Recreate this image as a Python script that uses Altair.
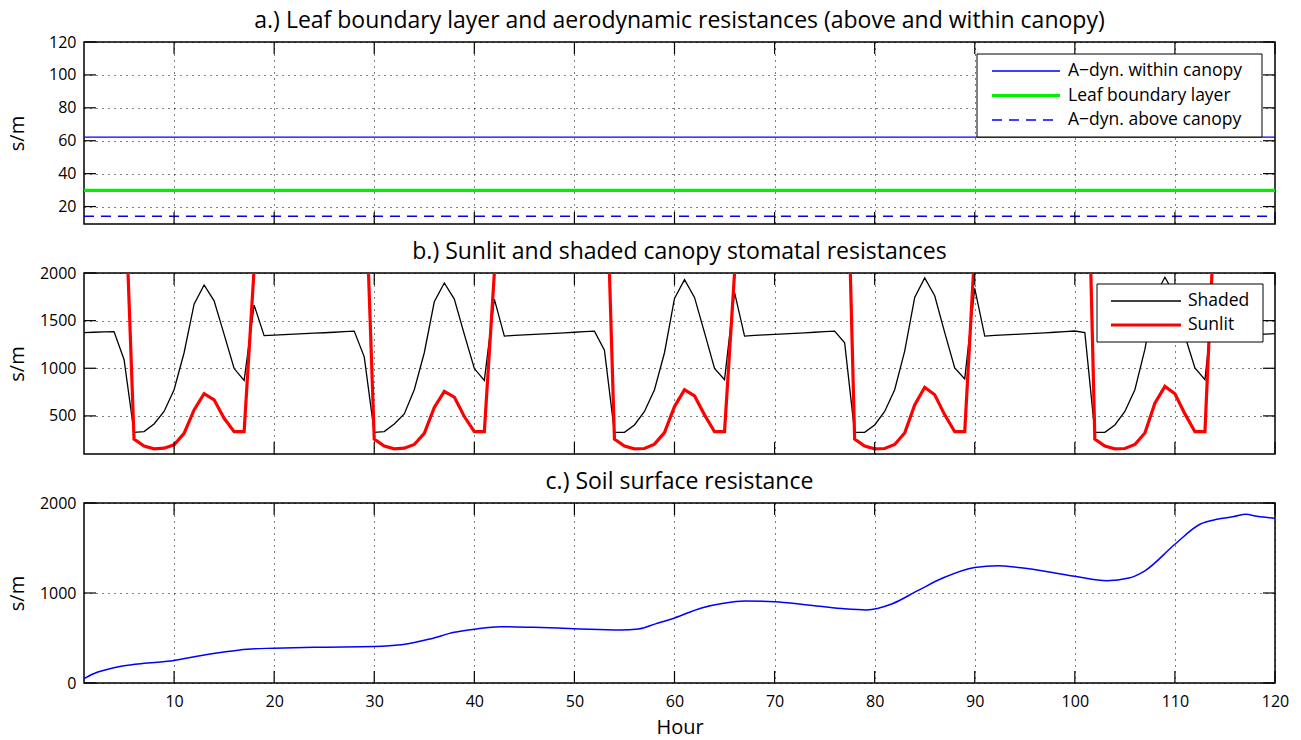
import altair as alt
import pandas as pd

FONT = "Open Sans"

# ---------------- data ----------------
X_TICKS = [10, 20, 30, 40, 50, 60, 70, 80, 90, 100, 110, 120]
X_GRID = [10, 20, 30, 40, 50, 60, 70, 80, 90, 100, 110]

# panel a: constant resistances (s/m)
A_NAMES = ["A\u2212dyn. within canopy", "Leaf boundary layer", "A\u2212dyn. above canopy"]
A_VALUES = [62.2, 29.8, 14.1]
A_SPAN = [1, 120]
A_YTICKS = [20, 40, 60, 80, 100, 120]

# panel b: stomatal resistances, hours 1..120
B_HOURS = list(range(1, 121))
SHADED = [
    1374, 1378, 1382, 1385, 1092,
    328, 335, 415, 546, 775, 1163, 1673, 1874, 1708, 1356, 997, 873,
    1663, 1342, 1348, 1353, 1358, 1363, 1368, 1373, 1378, 1384, 1390, 1120,
    328, 335, 415, 521, 775, 1163, 1698, 1895, 1726, 1356, 997, 873,
    1726, 1338, 1345, 1350, 1355, 1360, 1366, 1372, 1378, 1384, 1390, 1190,
    328, 328, 405, 546, 775, 1163, 1733, 1930, 1744, 1374, 997, 880,
    1797, 1338, 1345, 1350, 1355, 1360, 1366, 1372, 1378, 1384, 1390, 1268,
    328, 328, 405, 546, 775, 1180, 1744, 1948, 1761, 1374, 1004, 888,
    1839, 1338, 1345, 1350, 1355, 1360, 1366, 1372, 1378, 1384, 1391, 1374,
    328, 328, 405, 546, 775, 1198, 1760, 1955, 1770, 1339, 1004, 880,
    1870, 1338, 1343, 1348, 1353, 1358, 1363,
]
SUNLIT = [
    5000, 5000, 5000, 5000, 3160,
    257, 183, 154, 161, 197, 317, 563, 733, 669, 475, 334, 334,
    2050, 5000, 5000, 5000, 5000, 5000, 5000, 5000, 5000, 5000, 5000, 3300,
    257, 183, 154, 161, 200, 317, 588, 757, 697, 493, 334, 334,
    2000, 5000, 5000, 5000, 5000, 5000, 5000, 5000, 5000, 5000, 5000, 3740,
    257, 183, 154, 158, 204, 324, 598, 775, 711, 511, 334, 334,
    2000, 5000, 5000, 5000, 5000, 5000, 5000, 5000, 5000, 5000, 5000, 4310,
    257, 183, 154, 158, 200, 320, 616, 800, 722, 511, 334, 334,
    2250, 5000, 5000, 5000, 5000, 5000, 5000, 5000, 5000, 5000, 5000, 4615,
    257, 183, 154, 158, 200, 320, 634, 810, 733, 521, 334, 334,
    2714, 5000, 5000, 5000, 5000, 5000, 5000,
]
B_NAMES = ["Shaded", "Sunlit"]
B_YTICKS = [500, 1000, 1500, 2000]

# panel c: soil surface resistance
SOIL_HOURS = [1, 1.95, 3.2, 4.85, 7.3, 10, 12.3, 14.8, 17.3, 20, 24, 30, 32.7,
              35.6, 38, 40, 42.6, 45.9, 50, 54.6, 56.4, 58.1, 60, 62.7, 64.9,
              67, 70, 73.3, 76.7, 79.2, 81.7, 84.3, 86.8, 90, 92.3, 94.4, 100,
              103.2, 105.4, 107, 110, 112.5, 114.2, 115.9, 117.1, 118.2, 120]
SOIL_VALUES = [48, 103, 147, 188, 221, 250, 298, 342, 376, 387, 398, 405, 424,
               490, 563, 597, 626, 619, 604, 589, 600, 657, 723, 834, 886,
               911, 904, 867, 827, 812, 878, 1026, 1166, 1284, 1303, 1284, 1185,
               1137, 1166, 1247, 1542, 1764, 1819, 1849, 1875, 1852, 1830]
C_YTICKS = [0, 1000, 2000]

# ---------------- style ----------------
W = 1191
HA, HB, HC = 182, 181, 180
TICK = 12
THIN, THICK = 1.3, 3.2
BLUE, GREEN, RED, BLACK = "#0000ff", "#00f000", "#ff0000", "#000000"
A_STYLES = [(BLUE, THIN, [1, 0]), (GREEN, THICK, [1, 0]), (BLUE, THIN, [10, 7])]
B_STYLES = [(BLACK, THIN, [1, 0]), (RED, THICK, [1, 0])]

xscale = alt.Scale(domain=[1, 120], nice=False, zero=False)


def inner_ticks(yticks, ydomain, h):
    xdf = pd.DataFrame({"hour": X_TICKS})
    ydf = pd.DataFrame({"value": yticks})
    ysc = alt.Scale(domain=ydomain, nice=False, zero=False)
    base_x = alt.Chart(xdf).mark_rule(color="black", strokeWidth=1.2)
    base_y = alt.Chart(ydf).mark_rule(color="black", strokeWidth=1.2)
    top = base_x.encode(x=alt.X("hour:Q", scale=xscale),
                        y=alt.value(0), y2=alt.value(TICK))
    bot = base_x.encode(x=alt.X("hour:Q", scale=xscale),
                        y=alt.value(h - TICK), y2=alt.value(h))
    left = base_y.encode(y=alt.Y("value:Q", scale=ysc),
                         x=alt.value(0), x2=alt.value(TICK))
    right = base_y.encode(y=alt.Y("value:Q", scale=ysc),
                          x=alt.value(W - TICK), x2=alt.value(W))
    return [top, bot, left, right]


def legend_box(names, styles, x0, x1, y0, row0, pitch, lx0, lx1, tx):
    """Boxed legend drawn inside the plot area (pixel layout)."""
    y1 = y0 + (row0 - y0) * 2 + pitch * (len(names) - 1)
    one = pd.DataFrame({"k": [0]})
    layers = [alt.Chart(one).mark_rect(fill="white", stroke="black", strokeWidth=1).encode(
        x=alt.value(x0), x2=alt.value(x1), y=alt.value(y0), y2=alt.value(y1))]
    for i, (name, (col, sw, dash)) in enumerate(zip(names, styles)):
        yy = row0 + i * pitch
        d = pd.DataFrame({"label": [name]})
        layers.append(alt.Chart(d).mark_rule(color=col, strokeWidth=sw, strokeDash=dash).encode(
            x=alt.value(lx0), x2=alt.value(lx1), y=alt.value(yy)))
        layers.append(alt.Chart(d).mark_text(
            align="left", baseline="middle", font=FONT, fontSize=17.5, color="black").encode(
            x=alt.value(tx), y=alt.value(yy), text="label:N"))
    return layers


def x_axis(show):
    if show:
        return alt.Axis(values=X_TICKS, grid=True, ticks=False, domain=False,
                        title="Hour", labelFlush=False, labelPadding=10,
                        titlePadding=8, labelOverlap=False, format="d", tickCount=30)
    return alt.Axis(values=X_GRID, labels=False, ticks=False, domain=False,
                    grid=True, title=None, tickCount=30)


def y_axis(vals, h):
    return alt.Axis(values=vals, title="s/m", ticks=False, domain=False,
                    grid=True, labelFlush=False, labelPadding=8,
                    labelOverlap=False, format="d", tickCount=20,
                    titleX=-57, titleY=h / 2)


# panel a
rows_a = []
for n, v, st in zip(A_NAMES, A_VALUES, A_STYLES):
    for hh in A_SPAN:
        rows_a.append({"hour": hh, "value": v, "series": n, "sw": st[1]})
df_a = pd.DataFrame(rows_a)
ydom_a = [9.4, 120]
line_a = alt.Chart(df_a).mark_line(clip=True).encode(
    x=alt.X("hour:Q", scale=xscale, axis=x_axis(False)),
    y=alt.Y("value:Q", scale=alt.Scale(domain=ydom_a, nice=False, zero=False),
            axis=y_axis(A_YTICKS, HA)),
    color=alt.Color("series:N", scale=alt.Scale(domain=A_NAMES, range=[s[0] for s in A_STYLES]), legend=None),
    strokeDash=alt.StrokeDash("series:N", scale=alt.Scale(domain=A_NAMES, range=[s[2] for s in A_STYLES]), legend=None),
    strokeWidth=alt.StrokeWidth("sw:Q", scale=None),
)
panel_a = alt.layer(
    line_a, *inner_ticks(A_YTICKS, ydom_a, HA),
    *legend_box(A_NAMES, A_STYLES, 893, 1178, 12, 29, 24.5, 908, 976, 984),
).properties(
    width=W, height=HA,
    title="a.) Leaf boundary layer and aerodynamic resistances (above and within canopy)")

# panel b
rows_b = []
for hh, s in zip(B_HOURS, SHADED):
    rows_b.append({"hour": hh, "value": s, "series": "Shaded", "sw": B_STYLES[0][1]})
for hh, s in zip(B_HOURS, SUNLIT):
    rows_b.append({"hour": hh, "value": s, "series": "Sunlit", "sw": B_STYLES[1][1]})
df_b = pd.DataFrame(rows_b)
ydom_b = [100, 2000]
line_b = alt.Chart(df_b).mark_line(clip=True).encode(
    x=alt.X("hour:Q", scale=xscale, axis=x_axis(False)),
    y=alt.Y("value:Q", scale=alt.Scale(domain=ydom_b, nice=False, zero=False),
            axis=y_axis(B_YTICKS, HB)),
    color=alt.Color("series:N", scale=alt.Scale(domain=B_NAMES, range=[s[0] for s in B_STYLES]), legend=None),
    strokeWidth=alt.StrokeWidth("sw:Q", scale=None),
)
panel_b = alt.layer(
    line_b, *inner_ticks(B_YTICKS, ydom_b, HB),
    *legend_box(B_NAMES, B_STYLES, 1013, 1179, 11, 28, 24, 1027, 1097, 1104),
).properties(
    width=W, height=HB, title="b.) Sunlit and shaded canopy stomatal resistances")

# panel c
df_c = pd.DataFrame({"hour": SOIL_HOURS, "value": SOIL_VALUES})
ydom_c = [0, 2000]
line_c = alt.Chart(df_c).mark_line(clip=True, color=BLUE, strokeWidth=1.5,
                                   interpolate="monotone").encode(
    x=alt.X("hour:Q", scale=xscale, axis=x_axis(True)),
    y=alt.Y("value:Q", scale=alt.Scale(domain=ydom_c, nice=False, zero=False),
            axis=y_axis(C_YTICKS, HC)),
)
panel_c = alt.layer(line_c, *inner_ticks(C_YTICKS, ydom_c, HC)).properties(
    width=W, height=HC, title="c.) Soil surface resistance")

chart = alt.vconcat(panel_a, panel_b, panel_c, spacing=14).resolve_scale(
    color="independent", strokeDash="independent",
    x="independent", y="independent",
).properties(
    padding={"left": 6, "top": 9, "right": 5, "bottom": 0},
    background="white",
).configure(font=FONT).configure_view(
    stroke="black", strokeWidth=1.5
).configure_axis(
    labelFont=FONT, labelFontSize=16, labelColor="black",
    titleFont=FONT, titleFontSize=20, titleFontWeight="normal", titleColor="black",
    gridColor="black", gridDash=[1, 5], gridOpacity=1, gridWidth=1,
).configure_title(
    font=FONT, fontSize=23, fontWeight="normal", color="black", offset=1,
    anchor="middle", frame="group"
)

chart.save("out.html", embed_options={"renderer": "svg", "actions": False})
